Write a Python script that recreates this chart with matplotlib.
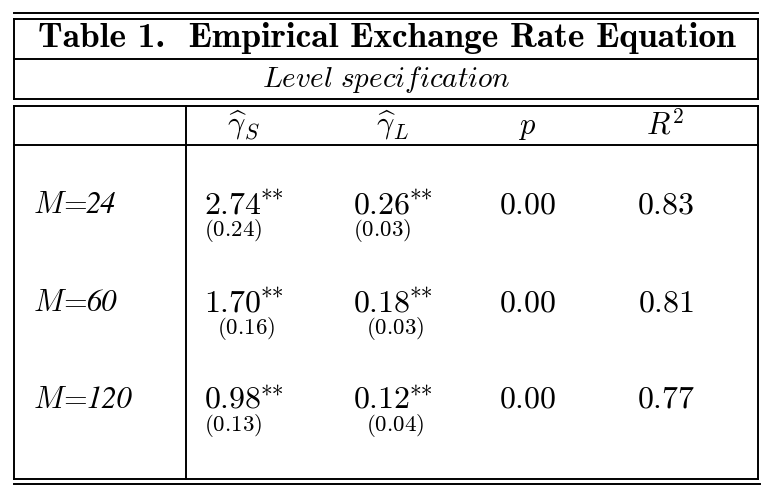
import matplotlib
matplotlib.use("Agg")
import matplotlib.pyplot as plt

plt.rcParams['mathtext.fontset'] = 'cm'

# Table contents
title = "Table 1.  Empirical Exchange Rate Equation"
subtitle = "Level specification"
col_heads = [r"$\widehat{\gamma}_S$", r"$\widehat{\gamma}_L$", r"$p$", r"$R^2$"]
rows = ["24", "60", "120"]
gamma_s = ["2.74", "1.70", "0.98"]
se_s = ["0.24", "0.16", "0.13"]
gamma_l = ["0.26", "0.18", "0.12"]
se_l = ["0.03", "0.03", "0.04"]
p_val = ["0.00", "0.00", "0.00"]
r2 = ["0.83", "0.81", "0.77"]

fig = plt.figure(figsize=(7.7, 4.93), dpi=100)
ax = fig.add_axes([0, 0, 1, 1])
ax.set_xlim(0, 770)
ax.set_ylim(493, 0)
ax.axis('off')
renderer = fig.canvas.get_renderer()

lw = 1.4
L, R = 14, 758

def hline(y, x0=L, x1=R):
    ax.plot([x0, x1], [y, y], color='black', lw=lw, solid_capstyle='projecting')

def vline(x, y0, y1):
    ax.plot([x, x], [y0, y1], color='black', lw=lw, solid_capstyle='projecting')

def right_edge(t):
    # x of the right end of a text, in data units
    bb = t.get_window_extent(renderer)
    return ax.transData.inverted().transform((bb.x1, bb.y0))[0]

# rules and boxes
hline(13)
for y in (19, 59, 99):
    hline(y)
vline(L, 19, 99); vline(R, 19, 99)
hline(106); hline(145); hline(479)
vline(L, 106, 479); vline(R, 106, 479); vline(186, 106, 479)
hline(484, L, 760)

# title and subtitle
ax.text(387, 47, title, ha='center', va='baseline', fontsize=25.5,
        family='cmb10')
ax.text(386, 87, r"$\mathit{" + subtitle.replace(" ", r"\ ") + "}$",
        ha='center', va='baseline', fontsize=21)

# header
head_x = [243, 392, 527, 665]
for x, h in zip(head_x, col_heads):
    ax.text(x, 134, h, ha='center', va='baseline', fontsize=22)

# body
base_y = [213, 311, 408]
se_y = [236, 334, 431]
se_s_x = [204, 217, 204]
se_l_x = [353, 366, 366]

def estimate(x, y, val):
    t = ax.text(x, y, r"$\mathrm{" + val + "}$", ha='left',
                va='baseline', fontsize=23)
    ax.text(right_edge(t) - 1, y - 5, "**", ha='left', va='baseline',
            fontsize=17, family='cmr10')

for i in range(len(rows)):
    y = base_y[i]
    ax.text(33, y, r"$M\!=\!$", ha='left', va='baseline', fontsize=22)
    ax.text(86, y, rows[i], ha='left', va='baseline', fontsize=22,
            family='STIXGeneral', style='italic')
    estimate(204, y, gamma_s[i])
    estimate(353, y, gamma_l[i])
    ax.text(528, y, r"$\mathrm{" + p_val[i] + "}$", ha='center',
            va='baseline', fontsize=23)
    ax.text(666, y, r"$\mathrm{" + r2[i] + "}$", ha='center',
            va='baseline', fontsize=23)
    ax.text(se_s_x[i], se_y[i], r"$\mathrm{(" + se_s[i] + ")}$", ha='left',
            va='baseline', fontsize=16.5)
    ax.text(se_l_x[i], se_y[i], r"$\mathrm{(" + se_l[i] + ")}$", ha='left',
            va='baseline', fontsize=16.5)

fig.savefig("out.png", dpi=100)
